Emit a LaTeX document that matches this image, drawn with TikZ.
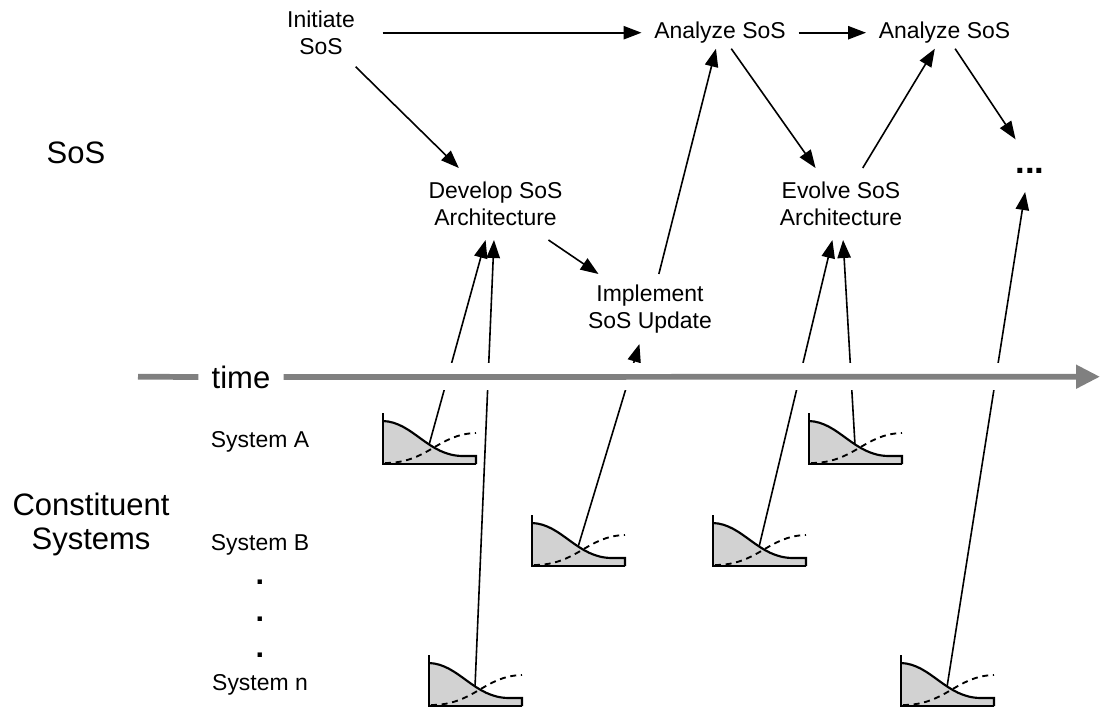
\documentclass[tikz,border=0pt]{standalone}
\usepackage{fontspec}
\setmainfont{Liberation Sans}
\usetikzlibrary{arrows.meta}
\definecolor{fillgray}{RGB}{210,210,210}
\definecolor{timegray}{RGB}{128,128,128}

\begin{document}
\begin{tikzpicture}[x=0.75pt,y=-0.75pt,
  every node/.style={inner sep=0pt, outer sep=0pt},
  txt/.style={font=\fontsize{17.2}{20.3}\selectfont, align=center},
  syslabel/.style={font=\fontsize{17.2}{20.3}\selectfont},
  vdot/.style={font=\fontsize{23}{26}\selectfont\bfseries},
  big/.style={font=\fontsize{23.25}{25.5}\selectfont, align=center},
  arr/.style={line width=1.2pt, -{Triangle[length=13.5pt,width=10pt]}},
  sysglyph/.pic={
    % shaded capability curve
    \fill[fillgray] (0,-43) .. controls (30,-42) and (45,-8) .. (80,-8) -- (93,-8) -- (93,0) -- (0,0) -- cycle;
    \draw[line width=1.6pt] (0,-43) .. controls (30,-42) and (45,-8) .. (80,-8) -- (93,-8) -- (93,0);
    % rising dashed curve
    \draw[line width=1.4pt, dash pattern=on 4.5pt off 3.5pt] (2,-1) .. controls (45,-1) and (55,-30) .. (93,-31);
    % axes
    \draw[line width=2pt] (0,-51) -- (0,0) -- (93,0);
    \coordinate (-src) at (46,-19);
  }
]
\path[use as bounding box] (0,0) rectangle (1100,708);

% SoS level activities
\node[txt, minimum width=92.25pt, minimum height=51pt] (ini) at (321,32.7) {Initiate\\SoS};
\node[txt, minimum width=117.75pt, minimum height=24pt] (an1) at (720,32.7) {Analyze SoS};
\node[txt, minimum width=117.75pt, minimum height=24pt] (an2) at (944.5,32.7) {Analyze SoS};
\node[txt, minimum height=54pt] (dev) at (495.5,204) {Develop SoS\\Architecture};
\node[txt, minimum height=54pt] (evo) at (841,204) {Evolve SoS\\Architecture};
\node[txt, minimum height=52.5pt] (imp) at (650,309) {Implement\\SoS Update};
\node[font=\fontsize{26}{28}\selectfont\bfseries, text height=32.25pt, text depth=14.25pt, anchor=base] (more) at (1030,173) {...};

% row labels
\node[big, anchor=base] (sos) at (76,163) {SoS};
\node[big] (cs) at (91,524) {Constituent\\Systems};
\node[syslabel, anchor=base] (sA) at (260,447) {System A};
\node[syslabel, anchor=base] (sB) at (260,550) {System B};
\node[syslabel, anchor=base] (sn) at (260,690) {System n};
\node[vdot] (d1) at (260,582.5) {.};
\node[vdot] (d2) at (260,619.5) {.};
\node[vdot] (d3) at (260,655.5) {.};

% constituent system glyphs
\pic (gA1) at (383,464) {sysglyph};
\pic (gA2) at (809,464) {sysglyph};
\pic (gB1) at (532,566) {sysglyph};
\pic (gB2) at (713,566) {sysglyph};
\pic (gn1) at (429,706) {sysglyph};
\pic (gn2) at (901,706) {sysglyph};

% SoS flow
\draw[arr] (ini) -- (an1);
\draw[arr] (an1) -- (an2);
\draw[arr] (ini) -- (dev);
\draw[arr] (dev) -- (imp);
\draw[arr] (imp) -- (an1);
\draw[arr] (an1) -- (evo);
\draw[arr] (evo) -- (an2);
\draw[arr] (an2) -- (more);

% inputs from constituent systems
\draw[arr] (gA1-src) -- (dev);
\draw[arr] (gn1-src) -- (dev);
\draw[arr] (gB1-src) -- (imp);
\draw[arr] (gB2-src) -- (evo);
\draw[arr] (gA2-src) -- (evo);
\draw[arr] (gn2-src) -- (more);

% time axis with a white halo where lines pass beneath it
\draw[white, line width=20.25pt] (140,376.7) -- (1076,376.7);
\node[big, fill=white, inner xsep=10pt, inner ysep=2pt] (time) at (241,377) {time};
\coordinate (tstart) at (138,376.7);
\coordinate (tend) at (1100,376.7);
\draw[timegray, line width=4.3pt] (tstart) -- (time.west);
\draw[timegray, line width=4.3pt, -{Triangle[length=18pt,width=17pt]}] (time.east) -- (tend);
\end{tikzpicture}
\end{document}
